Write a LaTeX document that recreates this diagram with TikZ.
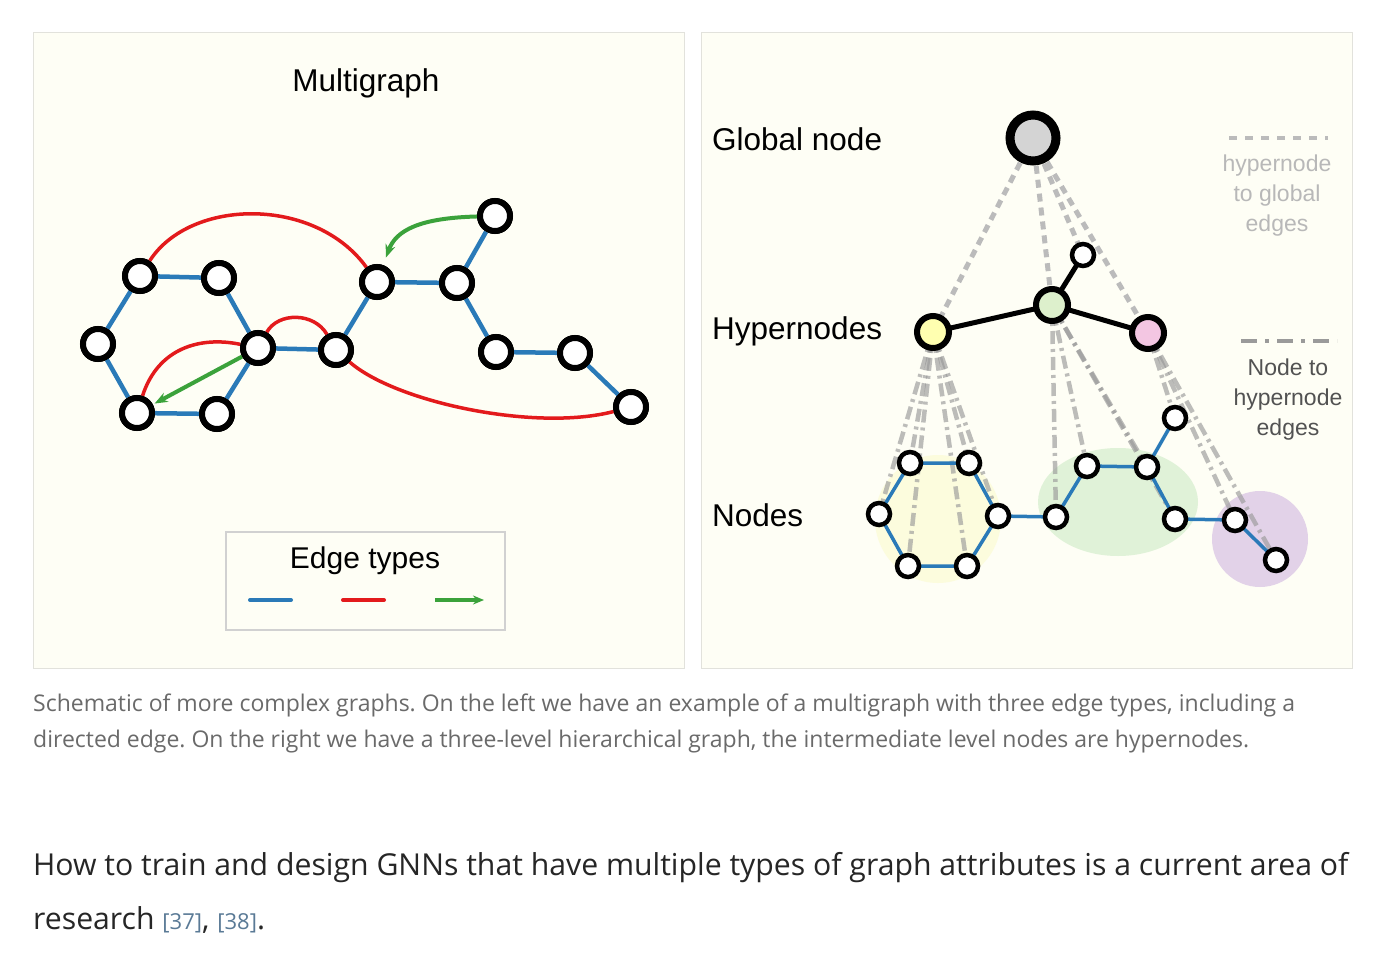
\documentclass[tikz,border=0pt]{standalone}
\usepackage{fontspec}
\setmainfont{Liberation Sans}
\newfontfamily\capfont{Open Sans}
\usetikzlibrary{arrows.meta}
\frenchspacing
\definecolor{cream}{HTML}{FEFEF5}
\definecolor{panelline}{HTML}{E2E2DC}
\definecolor{eblue}{HTML}{2A7AB8}
\definecolor{ered}{HTML}{E31A1C}
\definecolor{egreen}{HTML}{3BA23B}
\definecolor{hyel}{HTML}{FFFFB0}
\definecolor{hgrn}{HTML}{DDF0CC}
\definecolor{hpnk}{HTML}{F3C6E2}
\definecolor{byel}{HTML}{FCFCDD}
\definecolor{bgrn}{HTML}{E0F2D8}
\definecolor{bpur}{HTML}{E2D2E8}
\definecolor{capgray}{HTML}{6A6A6A}
\definecolor{refblue}{HTML}{5A7A96}
\definecolor{dashg}{HTML}{BBBBBB}
\definecolor{dashdotg}{HTML}{9A9A9A}
\begin{document}
\begin{tikzpicture}[x=1pt,y=-1pt,
  panel/.style={fill=cream,draw=panelline,line width=1pt},
  bignode/.style={circle,draw=black,line width=6pt,fill=white,minimum size=30pt,inner sep=0pt},
  smallnode/.style={circle,draw=black,line width=4.5pt,fill=white,minimum size=22pt,inner sep=0pt},
  hypnode/.style={circle,draw=black,line width=6pt,minimum size=32pt,inner sep=0pt},
  globnode/.style={circle,draw=black,line width=9pt,fill=black!17,minimum size=46pt,inner sep=0pt},
  bedge/.style={eblue,line width=4.5pt},
  sbedge/.style={eblue,line width=3.5pt},
  redge/.style={ered,line width=3.5pt},
  gedge/.style={egreen,line width=4pt,-{Stealth[length=13pt,width=10pt]}},
  kedge/.style={black,line width=5pt},
  globdash/.style={dashg,line width=5pt,dash pattern=on 8pt off 6pt},
  hypdash/.style={dashdotg,line width=4.5pt,opacity=0.65,dash pattern=on 13pt off 5pt on 3pt off 5pt},
  lbl/.style={font=\fontsize{31.5}{34}\selectfont,inner sep=0pt},
  leg/.style={font=\fontsize{23}{30}\selectfont,align=center,inner sep=0pt}
]
\useasboundingbox (0,0) rectangle (1387,955);
\fill[white] (0,0) rectangle (1387,955);
% panels
\draw[panel] (33,33) rectangle (684,668);
\draw[panel] (701,33) rectangle (1352,668);

% ================= LEFT: multigraph =================
\node[lbl] (title) at (366,83) {Multigraph};

\node[bignode] (A) at (140,276) {};
\node[bignode] (B) at (219,278) {};
\node[bignode] (C) at (98,344) {};
\node[bignode] (D) at (258,348) {};
\node[bignode] (E) at (137,413) {};
\node[bignode] (F) at (217,414) {};
\node[bignode] (G) at (336,350) {};
\node[bignode] (H) at (377,282) {};
\node[bignode] (I) at (457,283) {};
\node[bignode] (J) at (495,216) {};
\node[bignode] (K) at (496,352) {};
\node[bignode] (L) at (575,353) {};
\node[bignode] (M) at (631,407) {};

% edges
\draw[bedge] (A)--(B) (A)--(C) (B)--(D) (C)--(E) (E)--(F) (F)--(D) (D)--(G) (G)--(H) (H)--(I) (I)--(J) (I)--(K) (K)--(L) (L)--(M);
\draw[redge] (A) .. controls (190,198) and (315,196) .. (H);
\draw[redge] (E) .. controls (158,348) and (200,336) .. (D);
\draw[redge] (D) .. controls (278,312) and (314,312) .. (G);
\draw[redge] (G) .. controls (395,402) and (535,432) .. (M);
\draw[gedge,shorten >=2pt] (D) -- (E);
\draw[gedge,shorten >=8pt] (J) .. controls (420,218) and (396,230) .. (H);

% redraw nodes on top
\foreach \p in {(140,276),(219,278),(98,344),(258,348),(137,413),(217,414),(336,350),(377,282),(457,283),(495,216),(496,352),(575,353),(631,407)}
  \node[bignode] at \p {};

% legend
\draw[draw=black!18,line width=2.5pt,fill=cream] (226,532) rectangle (505,630);
\node[lbl,font=\fontsize{30}{34}\selectfont] (legtitle) at (365,561) {Edge types};
\coordinate (lb1) at (250,600); \coordinate (lb2) at (291,600);
\coordinate (lr1) at (343,600); \coordinate (lr2) at (384,600);
\coordinate (lg1) at (435,600); \coordinate (lg2) at (484,600);
\draw[eblue,line width=4pt,line cap=round] (lb1)--(lb2);
\draw[ered,line width=4pt,line cap=round] (lr1)--(lr2);
\draw[egreen,line width=4pt,-{Stealth[length=11pt,width=9pt]}] (lg1)--(lg2);

% ================= RIGHT: hierarchical =================
\node[lbl,anchor=west] (tglob) at (712,139) {Global node};
\node[lbl,anchor=west] (thyp) at (712,331) {Hypernodes};
\node[lbl,anchor=west] (tnod) at (712,515) {Nodes};

% blobs
\fill[byel] (938,519) ellipse [x radius=63pt, y radius=64pt];
\fill[bgrn] (1118,502) ellipse [x radius=80pt, y radius=54pt];
\fill[bpur] (1260,539) circle [radius=48pt];

% coordinates of nodes
\coordinate (g0) at (1033,138);
\coordinate (hy) at (933,332);
\coordinate (hg) at (1052,305);
\coordinate (hp) at (1148,333);
\coordinate (s0) at (1083,255);
\coordinate (n1) at (910,463);
\coordinate (n2) at (969,463);
\coordinate (n3) at (879,514);
\coordinate (n4) at (998,516);
\coordinate (n5) at (908,566);
\coordinate (n6) at (967,566);
\coordinate (n7) at (1056,517);
\coordinate (n8) at (1087,466);
\coordinate (n9) at (1147,467);
\coordinate (n10) at (1175,418);
\coordinate (n11) at (1175,519);
\coordinate (n12) at (1235,520);
\coordinate (n13) at (1276,560);

% node to hypernode edges
\foreach \t in {n1,n2,n3,n4,n5,n6} \draw[hypdash] (hy)--(\t);
\foreach \t in {n7,n8,n9,n11} \draw[hypdash] (hg)--(\t);
\foreach \t in {n10,n12,n13} \draw[hypdash] (hp)--(\t);

% hypernode to global edges
\foreach \t in {hy,hg,hp,s0} \draw[globdash] (g0)--(\t);

% solid edges
\draw[kedge] (hy)--(hg) (hg)--(hp) (hg)--(s0);
\draw[sbedge] (n1)--(n2) (n1)--(n3) (n2)--(n4) (n3)--(n5) (n5)--(n6) (n6)--(n4) (n4)--(n7) (n7)--(n8) (n8)--(n9) (n9)--(n10) (n9)--(n11) (n11)--(n12) (n12)--(n13);

% nodes
\node[globnode] (G0) at (g0) {};
\node[hypnode,fill=hyel] (HY) at (hy) {};
\node[hypnode,fill=hgrn] (HG) at (hg) {};
\node[hypnode,fill=hpnk] (HP) at (hp) {};
\foreach \t in {s0,n1,n2,n3,n4,n5,n6,n7,n8,n9,n10,n11,n12,n13}
  \node[smallnode] (N\t) at (\t) {};

% legend right
\coordinate (d1) at (1229,138); \coordinate (d2) at (1328,138);
\draw[dashg,line width=4pt,dash pattern=on 8pt off 8pt] (d1)--(d2);
\node[leg,text=black!28] (tleg1) at (1277,196) {hypernode\\to global\\edges};
\coordinate (e1) at (1241,341); \coordinate (e2) at (1337,341);
\draw[dashdotg,line width=4pt,dash pattern=on 16pt off 8pt on 4pt off 8pt] (e1)--(e2);
\node[leg,text=black!68] (tleg2) at (1288,400) {Node to\\hypernode\\edges};

% ================= caption and text =================
\node[anchor=base west,inner sep=0pt,text=capgray,font=\capfont\fontsize{23}{26}\selectfont] (cap1) at (33,711) {Schematic of more complex graphs. On the left we have an example of a multigraph with three edge types, including a};
\node[anchor=base west,inner sep=0pt,text=capgray,font=\capfont\fontsize{23}{26}\selectfont] (cap2) at (33,747) {directed edge. On the right we have a three-level hierarchical graph, the intermediate level nodes are hypernodes.};
\node[anchor=base west,inner sep=0pt,text=black!85,font=\capfont\fontsize{30.2}{34}\selectfont] (body1) at (33,875) {How to train and design GNNs that have multiple types of graph attributes is a current area of};
\node[anchor=base west,inner sep=0pt,text=black!85,font=\capfont\fontsize{30.2}{34}\selectfont] (body2) at (33,929) {research {\color{refblue}\fontsize{22}{24}\selectfont[37]}, {\color{refblue}\fontsize{22}{24}\selectfont[38]}.};
\end{tikzpicture}
\end{document}
